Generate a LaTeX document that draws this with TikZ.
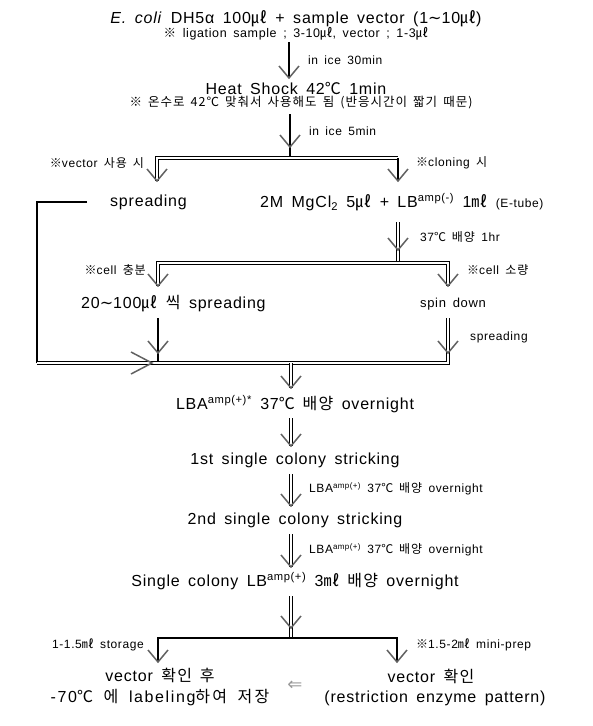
\documentclass[tikz,border=0pt]{standalone}
\usepackage{fontspec}
\setmainfont{Liberation Sans}[LetterSpace=5, WordSpace=1.6]
\newfontfamily\kr{Noto Sans CJK KR}[LetterSpace=8, WordSpace=1.6]
\newfontfamily\krw{Noto Sans CJK KR}[LetterSpace=14, WordSpace=1.8]
\newfontfamily\lsw{Liberation Sans}[LetterSpace=10, WordSpace=1.8]
\newfontfamily\djv{DejaVu Sans}
\usetikzlibrary{calc}
\newcommand\vdn[1]{\draw[vhead] ($(#1)+(-10,-12)$) -- (#1) -- ($(#1)+(10,-12)$);}
\newcommand\vrt[1]{\draw[vhead] ($(#1)+(-21,-11)$) -- (#1) -- ($(#1)+(-21,11)$);}
\newcommand\tl{{\djv ∼}}
\tikzset{
  big/.style={font=\fontsize{16}{18}\selectfont, inner sep=0pt},
  mid/.style={font=\fontsize{13}{15}\selectfont, inner sep=0pt},
  small/.style={font=\fontsize{12}{14}\selectfont, inner sep=0pt},
  one/.style={line width=2pt, draw=black},
  dbl/.style={double, double distance=1.8pt, line width=0.9pt, draw=black},
  vhead/.style={line width=1.5pt, draw=black!62},
}
\begin{document}
\begin{tikzpicture}[x=1pt,y=-1pt]
\useasboundingbox (0,0) rectangle (593,726);
% texts
\node[big] (t1) at (296,19) {\textit{E. coli} DH5α 100{\kr ㎕} + sample vector (1\tl10{\kr ㎕})};
\node[small, font=\fontsize{12.5}{14}\selectfont] (t1n) at (296,34) {{\kr ※} ligation sample ; 3-10{\kr ㎕}, vector ; 1-3{\kr ㎕}};
\node[small, anchor=west] (l1) at (308,60) {in ice 30min};
\node[big] (t2) at (296,88) {Heat Shock 42{\kr ℃} 1min};
\node[small, font=\fontsize{12.5}{14}\selectfont] (t2n) at (301,103) {\kr ※ 온수로 42℃ 맞춰서 사용해도 됨 (반응시간이 짧기 때문)};
\node[small, anchor=west] (l2) at (309,131) {in ice 5min};
\node[small, anchor=east] (c1) at (144,163) {{\kr ※}vector {\kr 사용 시}};
\node[small, anchor=west] (c2) at (416,163) {{\kr ※}cloning {\kr 시}};
\node[big, anchor=west] (sp) at (110,202) {spreading};
\node[big, anchor=west] (mg) at (260,202) {2M MgCl\textsubscript{2} 5{\kr ㎕} + LB\textsuperscript{amp(-)} 1{\kr ㎖} {\fontsize{12}{14}\selectfont (E-tube)}};
\node[small, anchor=west] (l3) at (420,237) {37{\kr ℃ 배양} 1hr};
\node[small, anchor=east] (c3) at (146,270) {{\kr ※}cell {\kr 충분}};
\node[small, anchor=west] (c4) at (467,270) {{\kr ※}cell {\kr 소량}};
\node[big, anchor=west] (s20) at (81,304) {20\tl100{\kr ㎕} {\kr 씩} spreading};
\node[mid, anchor=west] (sd) at (420,304) {spin down};
\node[small, anchor=west] (l4) at (470,337) {spreading};
\node[big] (lba) at (295,404) {LBA\textsuperscript{amp(+)*} 37{\kr ℃ 배양} overnight};
\node[big] (s1) at (295,460) {1st single colony stricking};
\node[small, anchor=west] (l5) at (309,489) {LBA\textsuperscript{amp(+)} 37{\kr ℃ 배양} overnight};
\node[big] (s2) at (295,520) {2nd single colony stricking};
\node[small, anchor=west] (l6) at (309,550) {LBA\textsuperscript{amp(+)} 37{\kr ℃ 배양} overnight};
\node[big] (sc) at (295,581) {Single colony LB\textsuperscript{amp(+)} 3{\kr ㎖ 배양} overnight};
\node[small, anchor=east] (c5) at (144,645) {1-1.5{\kr ㎖} storage};
\node[small, anchor=west] (c6) at (416,645) {{\kr ※}1.5-2{\kr ㎖} mini-prep};
\node[big] (v1) at (160,675) {vector {\kr 확인 후}};
\node[big, font=\fontsize{16}{18}\lsw] (v1b) at (160,698) {-70{\krw ℃ 에} labeling{\krw 하여 저장}};
\node[big] (v2) at (431,676) {vector {\kr 확인}};
\node[big] (v2b) at (435,698) {(restriction enzyme pattern)};
\node[font=\fontsize{18}{20}\selectfont\djv, text=black!40, inner sep=0pt] (back) at (295,686) {⇐};
% coordinates
\coordinate (a1s) at (289,42);  \coordinate (a1e) at (289,78);
\coordinate (a2s) at (290,114); \coordinate (b1m) at (290,158); \coordinate (a2t) at (290,147);
\coordinate (b1l) at (157,158); \coordinate (b1r) at (398,158);
\coordinate (b1lt) at (157,181); \coordinate (b1rt) at (398,181);
\coordinate (spl) at (87,202); \coordinate (lc1) at (37,202); \coordinate (lc2) at (37,363);
\coordinate (a3s) at (398,222); \coordinate (b2m) at (398,263); \coordinate (a3t) at (398,250);
\coordinate (b2l) at (158,263); \coordinate (b2r) at (448,263);
\coordinate (b2lt) at (158,286); \coordinate (b2rt) at (448,286);
\coordinate (a4s) at (158,318); \coordinate (a4e) at (158,363); \coordinate (a4t) at (158,353);
\coordinate (a5s) at (448,318); \coordinate (a5e) at (448,363); \coordinate (a5t) at (448,353);
\coordinate (bt) at (152,363);
\coordinate (a6s) at (291,363); \coordinate (a6e) at (291,388);
\coordinate (a7s) at (291,418); \coordinate (a7e) at (291,446);
\coordinate (a8s) at (291,474); \coordinate (a8e) at (291,506);
\coordinate (a9s) at (291,534); \coordinate (a9e) at (291,567);
\coordinate (a10s) at (291,596); \coordinate (b3m) at (291,638); \coordinate (a10t) at (291,628);
\coordinate (b3l) at (158,638); \coordinate (b3r) at (397,638);
\coordinate (b3lt) at (158,662); \coordinate (b3rt) at (397,662);
% connectors
\draw[one] (a1s) -- (a1e); \vdn{a1e}
\draw[one] (a2s) -- (b1m); \vdn{a2t}
\draw[dbl] (b1lt) -- (b1l) -- (b1r);
\draw[one] (b1r) -- (b1rt);
\vdn{b1lt} \vdn{b1rt}
\draw[one] (spl) -- (lc1) -- (lc2);
\draw[dbl] (a3s) -- (b2m); \vdn{a3t}
\draw[dbl] (b2lt) -- (b2l) -- (b2r) -- (b2rt);
\vdn{b2lt} \vdn{b2rt}
\draw[one] (a4s) -- (a4e); \vdn{a4t}
\draw[dbl] (lc2) -- (a5e) -- (a5s); \vdn{a5t}
\vrt{bt}
\draw[dbl] (a6s) -- (a6e); \vdn{a6e}
\draw[dbl] (a7s) -- (a7e); \vdn{a7e}
\draw[dbl] (a8s) -- (a8e); \vdn{a8e}
\draw[dbl] (a9s) -- (a9e); \vdn{a9e}
\draw[dbl] (a10s) -- (b3m); \vdn{a10t}
\draw[one] (b3lt) -- (b3l) -- (b3r) -- (b3rt);
\vdn{b3lt} \vdn{b3rt}
\end{tikzpicture}
\end{document}
